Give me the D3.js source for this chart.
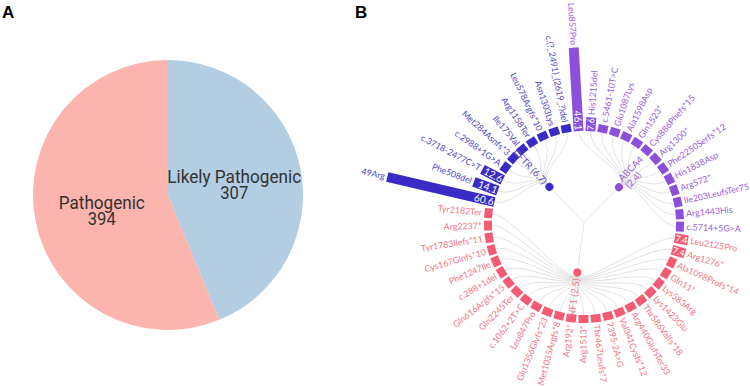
<!DOCTYPE html>
<html>
<head>
<meta charset="utf-8">
<script src="https://cdn.jsdelivr.net/npm/d3@7"></script>
<style>
  body { margin: 0; background: #fff; }
  svg { display: block; }
</style>
</head>
<body>
<svg id="chart" width="750" height="386"></svg>
<script>
// Panel A: pie of variant classes
const pieLabels = ['Pathogenic', 'Likely Pathogenic'];
const pieValues = [394, 307];
const pieColors = ['#fbb4ae', '#b3cde3'];

// Panel B: genes and their variants (clockwise order round the ring)
const genes = ['CFTR', 'ABCA4', 'NF1'];
const geneScores = ['6.7', '2.4', '2.5'];
const geneColors = ['#3b2bc6', '#8b4fd9', '#f45a72'];
const labelColors = ['#5446c9', '#9a60de', '#f27488'];

const cftrVariants = ['49Arg', 'Phe508del', 'c.3718-2477C>T', 'c.2988+1G>A', 'Met284Asnfs*3',
  'Ile175Val', 'Arg1158Ter', 'Leu578Argfs*10', 'Asn1303Lys', 'c.(?_2491)_(2619_?)del'];
const cftrValues = [60.6, 14.1, 12.6, 3, 3, 3, 3, 3, 3, 3];

const abca4Variants = ['Leu857Pro', 'His1215del', 'c.5461-10T>C', 'Glu1087Lys', 'Ala1598Asp',
  'Gln1523*', 'Cys886Phefs*15', 'Arg1300*', 'Phe2250Serfs*12', 'His1838Asp', 'Arg572*',
  'Ile203LeufsTer75', 'Arg1443His', 'c.5714+5G>A'];
const abca4Values = [46.1, 7.6, 3, 3, 3, 3, 3, 3, 3, 3, 3, 3, 3, 3];

const nf1Variants = ['Leu2125Pro', 'Arg1276*', 'Ala1098Profs*14', 'Gln11*', 'Lys583Arg',
  'Lys1423Glu', 'Thr586Valfs*18', 'Arg440GlufsTer33', 'Val341Cysfs*12', '7395-2A>G',
  'Thr467Leufs*7', 'Arg1513*', 'Arg192*', 'Met1035Argfs*8', 'Glu1356Glyfs*23', 'Leu847Pro',
  'c.1062+2T>C', 'Gln2245Ter', 'Gln616Argfs*15', 'c.288+1del', 'Phe1247Ile',
  'Cys167Glnfs*10', 'Tyr1783Ilefs*11', 'Arg2237*', 'Tyr2182Ter'];
const nf1Values = [7.4, 7.4, 3, 3, 3, 3, 3, 3, 3, 3, 3, 3, 3, 3, 3, 3, 3, 3, 3, 3, 3, 3, 3, 3, 3];

const svg = d3.select('#chart');

// ---- panel letters
svg.append('text').attr('x', 2).attr('y', 18)
  .style('font', 'bold 17px "Liberation Sans", Arial').text('A');
svg.append('text').attr('x', 355).attr('y', 18)
  .style('font', 'bold 17px "Liberation Sans", Arial').text('B');

// ---- pie
const pcx = 168, pcy = 195, pr = 135;
const pie = d3.pie().sort(null).startAngle(2 * Math.PI).endAngle(0);
const arcs = pie(pieValues);
const arc = d3.arc().innerRadius(0).outerRadius(pr);
const gp = svg.append('g').attr('transform', `translate(${pcx},${pcy})`);
gp.selectAll('path').data(arcs).join('path')
  .attr('d', arc)
  .attr('fill', (d, i) => pieColors[i]);

const lineW = { 'Pathogenic': 86, 'Likely Pathogenic': 134 };
arcs.forEach((d, i) => {
  const [x, y] = arc.centroid(d);
  const t = gp.append('text')
    .attr('text-anchor', 'middle')
    .style('font', '18px Roboto')
    .attr('fill', '#333');
  t.append('tspan').attr('x', x).attr('y', y + 1)
    .attr('textLength', lineW[pieLabels[i]]).attr('lengthAdjust', 'spacingAndGlyphs')
    .text(pieLabels[i]);
  t.append('tspan').attr('x', x).attr('y', y + 17)
    .attr('textLength', 28).attr('lengthAdjust', 'spacingAndGlyphs')
    .text(pieValues[i]);
});

// ---- circular dendrogram with bars
const cx = 584, cy = 223, R = 92, Rg = 50;
const groups = [
  { gene: 0, names: cftrVariants, values: cftrValues },
  { gene: 1, names: abca4Variants, values: abca4Values },
  { gene: 2, names: nf1Variants, values: nf1Values }
];
const leaves = [];
groups.forEach(g => g.names.forEach((n, i) => leaves.push({ name: n, value: g.values[i], gene: g.gene })));

const start = -80.5 * Math.PI / 180;
const angle = d3.scaleBand()
  .domain(leaves.map(d => d.name))
  .range([start, start + 2 * Math.PI])
  .paddingInner(0.16).paddingOuter(0.08);
const len = d3.scaleLinear().domain([0, 60.6]).range([0, 110]);
const barLen = v => Math.max(8, len(v));
const mid = d => angle(d.name) + angle.bandwidth() / 2;
const deg = a => a * 180 / Math.PI;
const left = a => { const t = ((deg(a) % 360) + 360) % 360; return t > 180; };
const bw = angle.bandwidth() * R;

const gb = svg.append('g').attr('transform', `translate(${cx},${cy})`);

const geneAngle = genes.map((g, gi) => d3.mean(leaves.filter(d => d.gene === gi), mid));

// edges
const link = d3.linkRadial().angle(d => d[0]).radius(d => d[1]);
gb.append('g').selectAll('path').data(leaves).join('path')
  .attr('d', d => link({ source: [geneAngle[d.gene], Rg], target: [mid(d), R] }))
  .attr('fill', 'none').attr('stroke', '#dedede').attr('stroke-width', 0.9);
gb.append('g').selectAll('path').data(genes).join('path')
  .attr('d', (d, i) => link({ source: [geneAngle[i], 0], target: [geneAngle[i], Rg] }))
  .attr('fill', 'none').attr('stroke', '#dedede').attr('stroke-width', 0.9);

// bars
const lg = gb.append('g').selectAll('g').data(leaves).join('g')
  .attr('transform', d => `rotate(${deg(mid(d)) - 90})`);
lg.append('rect')
  .attr('x', R).attr('y', -bw / 2)
  .attr('width', d => barLen(d.value)).attr('height', bw)
  .attr('fill', d => geneColors[d.gene]);

// variant labels
lg.append('text')
  .attr('transform', d => `translate(${R + barLen(d.value) + 2.5},0)` + (left(mid(d)) ? ' rotate(180)' : ''))
  .attr('text-anchor', d => left(mid(d)) ? 'end' : 'start')
  .attr('dy', '0.35em')
  .style('font', '8.8px Lato')
  .attr('fill', d => labelColors[d.gene])
  .text(d => d.name);

// values inside the long bars
lg.filter(d => d.value >= 7).append('text')
  .attr('transform', d => `translate(${R + 0.8},0)` + (left(mid(d)) ? ' rotate(180)' : ''))
  .attr('text-anchor', d => left(mid(d)) ? 'end' : 'start')
  .attr('dy', '0.36em')
  .style('font', d => d.value < 10 ? '8.8px Lato' : '10px Lato')
  .attr('fill', '#fff')
  .text(d => d.value);

// gene nodes and labels
genes.forEach((g, i) => {
  const a = geneAngle[i];
  const ng = gb.append('g').attr('transform', `rotate(${deg(a) - 90})`);
  ng.append('circle').attr('cx', Rg).attr('cy', 0).attr('r', 4).attr('fill', geneColors[i]);
  const t = ng.append('text')
    .attr('transform', `translate(${Rg + 6},0)` + (left(a) ? ' rotate(180)' : ''))
    .attr('text-anchor', left(a) ? 'end' : 'start')
    .style('font', '9.5px Lato')
    .attr('fill', labelColors[i]);
  if (g === 'ABCA4') {
    t.append('tspan').attr('x', 0).attr('dy', '-0.15em').text(g);
    t.append('tspan').attr('x', 0).attr('dy', '1.05em').text(`(${geneScores[i]})`);
  } else {
    t.attr('dy', '0.35em').text(`${g} (${geneScores[i]})`);
  }
});
</script>
</body>
</html>
